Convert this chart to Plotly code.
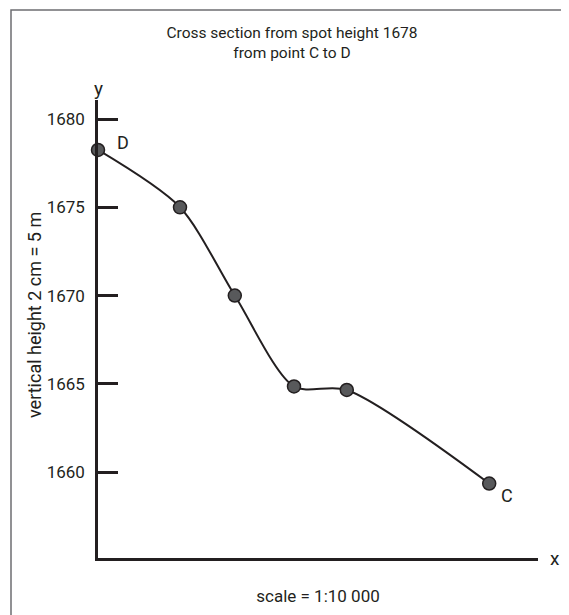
import plotly.graph_objects as go

# distance along the section (arbitrary units, no ticks shown) and heights in m
distance = [0, 2.05, 3.42, 4.9, 6.22, 9.78]
height = [1678.25, 1675.0, 1670.0, 1664.85, 1664.65, 1659.35]
y_ticks = [1660, 1665, 1670, 1675, 1680]

# the page body adds an 8px margin, so the figure is drawn 8px smaller
W, H = 561, 607
FONT = "Roboto, sans-serif"
INK = "#231f20"

fig = go.Figure()
fig.add_trace(go.Scatter(
    x=distance, y=height,
    mode="lines+markers",
    line=dict(color=INK, width=2, shape="spline", smoothing=0.8),
    marker=dict(size=13, color="#58595b", line=dict(color=INK, width=1.5)),
    cliponaxis=False,
    hoverinfo="skip",
))

fig.update_layout(
    width=W, height=H,
    margin=dict(l=90, r=31, t=92, b=57),
    paper_bgcolor="white", plot_bgcolor="white",
    showlegend=False,
    font=dict(family=FONT, size=17, color=INK),
    title=dict(
        text="Cross section from spot height 1678<br>from point C to D",
        x=284 / W, xanchor="center", xref="container",
        y=1 - 30 / H, yanchor="top", yref="container",
        font=dict(family=FONT, size=15.5, color=INK),
    ),
    xaxis=dict(
        range=[0, 11], showgrid=False, zeroline=False,
        showline=True, linecolor=INK, linewidth=2.5,
        showticklabels=False, ticks="",
        title=dict(text="scale = 1:10 000", standoff=31,
                   font=dict(family=FONT, size=17)),
    ),
    yaxis=dict(
        range=[1655.13, 1681.08], showgrid=False, zeroline=False,
        showline=True, linecolor=INK, linewidth=2.5,
        tickvals=y_ticks, ticks="inside", ticklen=20, tickwidth=2.5,
        tickcolor=INK, tickfont=dict(family=FONT, size=17),
        ticklabelstandoff=7,
    ),
)

# y-axis caption sits a little above the middle of the axis
fig.add_annotation(x=-64 / 440, y=1 - 215 / 458, xref="paper", yref="paper",
                   text="vertical height 2 cm = 5 m", textangle=-90,
                   showarrow=False, xanchor="center", yanchor="middle",
                   font=dict(family=FONT, size=18))

# frame around the figure (right and bottom edges fall outside the picture)
fig.add_shape(type="rect", xref="paper", yref="paper",
              x0=-87 / 440, x1=1.2, y0=-0.3, y1=1 + 90 / 458,
              line=dict(color="#6d6e71", width=1.5), layer="below")

# axis letters and point labels
fig.add_annotation(x=1, y=0, xref="paper", yref="paper", text="x",
                   showarrow=False, xanchor="left", yanchor="middle",
                   xshift=10, font=dict(family=FONT, size=19))
fig.add_annotation(x=0, y=1, xref="paper", yref="paper", text="y",
                   showarrow=False, xanchor="center", yanchor="bottom",
                   yshift=-2, font=dict(family=FONT, size=19))
fig.add_annotation(x=distance[0], y=height[0], text="D", showarrow=False,
                   xanchor="left", yanchor="middle", xshift=17, yshift=7,
                   font=dict(family=FONT, size=18))
fig.add_annotation(x=distance[-1], y=height[-1], text="C", showarrow=False,
                   xanchor="left", yanchor="middle", xshift=10, yshift=-12,
                   font=dict(family=FONT, size=18))

fig.write_html("out.html")
